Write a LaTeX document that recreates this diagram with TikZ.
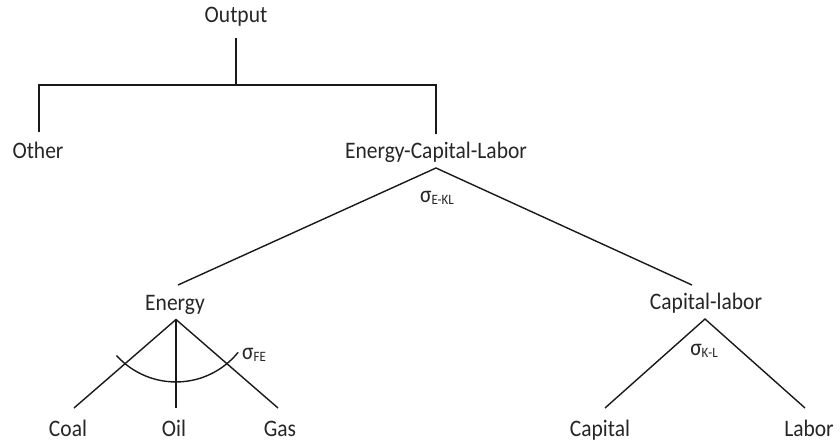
\documentclass[tikz,border=0pt]{standalone}
\usepackage{fontspec}
\setmainfont{Carlito}
\newcommand{\tall}[1]{\scalebox{1}[1.1]{#1}}
\newcommand{\sgsub}[1]{\raisebox{-0.12em}{\fontsize{13}{14}\selectfont #1}}
\begin{document}
\begin{tikzpicture}[x=1pt,y=-1pt,
  lbl/.style={inner sep=0pt, anchor=base, text=black!85, font=\fontsize{21.5}{24}\selectfont},
  sig/.style={inner sep=0pt, anchor=base, text=black!85, font=\fontsize{21.5}{24}\selectfont},
  ln/.style={line width=1.4pt, black!90}]
\useasboundingbox (0,0) rectangle (840,442);
% nodes
\node[lbl] (output) at (236,22) {\tall{Output}};
\node[lbl] (other) at (38,158) {\tall{Other}};
\node[lbl] (ecl) at (436,158) {\tall{Energy-Capital-Labor}};
\node[lbl] (energy) at (175,310) {\tall{Energy}};
\node[lbl] (caplab) at (706,309) {\tall{Capital-labor}};
\node[lbl] (coal) at (68,436) {\tall{Coal}};
\node[lbl] (oil) at (174,436) {\tall{Oil}};
\node[lbl] (gas) at (280,436) {\tall{Gas}};
\node[lbl] (capital) at (600,436) {\tall{Capital}};
\node[lbl] (labor) at (809,436) {\tall{Labor}};
\node[sig] (sekl) at (437,202) {\tall{σ\sgsub{E-KL}}};
\node[sig] (sfe) at (254,359) {\tall{σ\sgsub{FE}}};
\node[sig] (skl) at (704,355) {\tall{σ\sgsub{K-L}}};
% connection points
\coordinate (outT) at (236,37.5);
\coordinate (outB) at (236,85);
\coordinate (barL) at (39,85);
\coordinate (barR) at (436,85);
\coordinate (otherT) at (39,132);
\coordinate (eclT) at (436,134);
\coordinate (eclA) at (436,168);
\coordinate (energyT) at (178,285);
\coordinate (caplabT) at (692,285);
\coordinate (energyA) at (176,319.5);
\coordinate (coalT) at (74,408);
\coordinate (oilT) at (176,408);
\coordinate (gasT) at (278,408);
\coordinate (caplabA) at (705,319);
\coordinate (capitalT) at (605,408);
\coordinate (laborT) at (805,408);
\coordinate (arcL) at (116.5,355.5);
% connectors
\draw[ln] (outT) -- (outB);
\draw[ln] (otherT) -- (barL) -- (barR) -- (eclT);
\draw[ln] (energyT) -- (eclA) -- (caplabT);
\draw[ln] (coalT) -- (energyA) -- (gasT);
\draw[ln] (energyA) -- (oilT);
\draw[ln] (capitalT) -- (caplabA) -- (laborT);
\draw[ln] (arcL) arc[start angle=138, end angle=39, radius=80];
\end{tikzpicture}
\end{document}
